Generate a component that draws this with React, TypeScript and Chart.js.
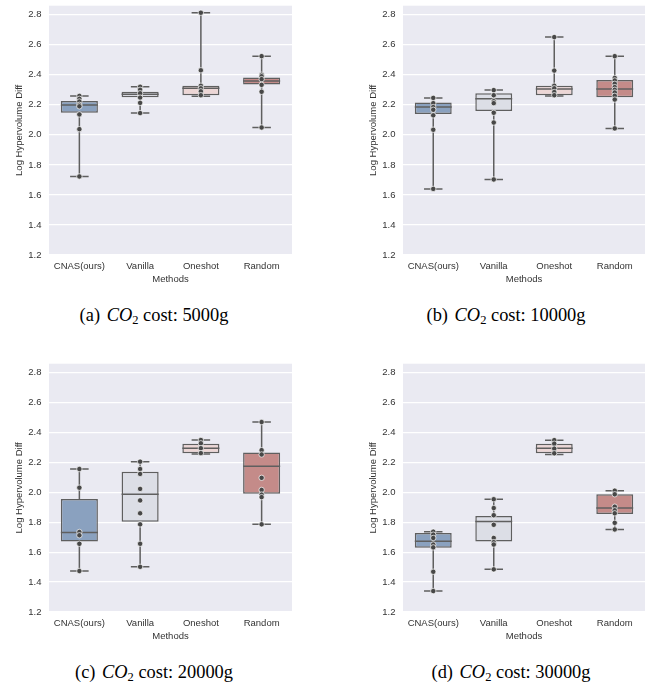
import React, { useEffect, useRef } from 'react';
import { Chart, registerables } from 'chart.js';
Chart.register(...registerables);

const METHODS = ['CNAS(ours)', 'Vanilla', 'Oneshot', 'Random'];
const BOX_COLORS = ['#8aa1bf', '#dcdee6', '#ecd6d5', '#c48b89'];
const Y_TICKS = [1.2, 1.4, 1.6, 1.8, 2.0, 2.2, 2.4, 2.6, 2.8];
const Y_MIN = 1.2;
const Y_MAX = 2.86;

// (a) CO2 cost: 5000g
const A_Q1 = [2.147, 2.25, 2.264, 2.336];
const A_MED = [2.198, 2.27, 2.31, 2.358];
const A_Q3 = [2.226, 2.287, 2.327, 2.382];
const A_LO = [1.723, 2.145, 2.257, 2.049];
const A_HI = [2.259, 2.32, 2.813, 2.524];
const A_CNAS = [2.259, 2.24, 2.222, 2.2, 2.19, 2.136, 2.038, 1.723];
const A_VANILLA = [2.32, 2.3, 2.277, 2.248, 2.213, 2.145];
const A_ONESHOT = [2.813, 2.43, 2.327, 2.31, 2.29, 2.264];
const A_RANDOM = [2.524, 2.4, 2.39, 2.371, 2.333, 2.287, 2.049];

// (b) CO2 cost: 10000g
const B_Q1 = [2.139, 2.159, 2.264, 2.25];
const B_MED = [2.185, 2.241, 2.305, 2.305];
const B_Q3 = [2.215, 2.277, 2.327, 2.366];
const B_LO = [1.64, 1.703, 2.259, 2.043];
const B_HI = [2.246, 2.298, 2.651, 2.524];
const B_CNAS = [2.246, 2.211, 2.185, 2.167, 2.13, 2.034, 1.64];
const B_VANILLA = [2.298, 2.264, 2.224, 2.211, 2.147, 2.082, 1.703];
const B_ONESHOT = [2.651, 2.428, 2.327, 2.31, 2.285, 2.264];
const B_RANDOM = [2.524, 2.379, 2.362, 2.34, 2.318, 2.3, 2.282, 2.26, 2.235, 2.043];

// (c) CO2 cost: 20000g
const C_Q1 = [1.671, 1.803, 2.262, 1.99];
const C_MED = [1.731, 1.987, 2.295, 2.174];
const C_Q3 = [1.955, 2.137, 2.325, 2.266];
const C_LO = [1.474, 1.502, 2.257, 1.786];
const C_HI = [2.156, 2.205, 2.35, 2.47];
const C_CNAS = [2.156, 2.031, 1.735, 1.713, 1.656, 1.474];
const C_VANILLA = [2.205, 2.156, 2.123, 2.023, 1.946, 1.86, 1.786, 1.656, 1.502];
const C_ONESHOT = [2.35, 2.328, 2.295, 2.262];
const C_RANDOM = [2.47, 2.282, 2.253, 2.097, 2.016, 1.985, 1.968, 1.786];

// (d) CO2 cost: 30000g
const D_Q1 = [1.629, 1.671, 2.261, 1.855];
const D_MED = [1.673, 1.805, 2.294, 1.895];
const D_Q3 = [1.728, 1.842, 2.325, 1.987];
const D_LO = [1.34, 1.485, 2.253, 1.752];
const D_HI = [1.737, 1.954, 2.349, 2.011];
const D_CNAS = [1.737, 1.717, 1.695, 1.651, 1.632, 1.469, 1.34];
const D_VANILLA = [1.954, 1.895, 1.847, 1.783, 1.695, 1.667, 1.651, 1.485];
const D_ONESHOT = [2.349, 2.325, 2.292, 2.261];
const D_RANDOM = [2.011, 1.987, 1.904, 1.88, 1.86, 1.796, 1.752];

const EDGE = '#5f5f5f';
const FONT = "'Liberation Sans', Arial, sans-serif";

type PanelProps = {
  q1: number[]; med: number[]; q3: number[]; lo: number[]; hi: number[];
  pts: number[][];
  left: number; top: number; width: number; height: number; padRight: number;
};

const bgPlugin = {
  id: 'darkgridBg',
  beforeDraw(chart: any) {
    const { ctx, chartArea } = chart;
    ctx.save();
    ctx.fillStyle = '#eaeaf2';
    ctx.fillRect(chartArea.left, chartArea.top, chartArea.right - chartArea.left, chartArea.bottom - chartArea.top);
    ctx.restore();
  },
};

function Panel(p: PanelProps) {
  const ref = useRef<HTMLCanvasElement>(null);
  useEffect(() => {
    if (!ref.current) return;
    const whiskerPlugin = {
      id: 'whiskers',
      afterDatasetDraw(chart: any, args: any) {
        if (args.index !== 1) return;
        const { ctx } = chart;
        const xs = chart.scales.x;
        const ys = chart.scales.y;
        ctx.save();
        ctx.strokeStyle = EDGE;
        ctx.lineWidth = 1.5;
        args.meta.data.forEach((bar: any, i: number) => {
          const cx = xs.getPixelForValue(i);
          const w = bar.width;
          const cap = w * 0.25;
          const yq1 = ys.getPixelForValue(p.q1[i]);
          const yq3 = ys.getPixelForValue(p.q3[i]);
          const ylo = ys.getPixelForValue(p.lo[i]);
          const yhi = ys.getPixelForValue(p.hi[i]);
          const ym = ys.getPixelForValue(p.med[i]);
          ctx.beginPath();
          ctx.moveTo(cx, yq1); ctx.lineTo(cx, ylo);
          ctx.moveTo(cx, yq3); ctx.lineTo(cx, yhi);
          ctx.moveTo(cx - cap, ylo); ctx.lineTo(cx + cap, ylo);
          ctx.moveTo(cx - cap, yhi); ctx.lineTo(cx + cap, yhi);
          ctx.moveTo(cx - w / 2, ym); ctx.lineTo(cx + w / 2, ym);
          ctx.stroke();
        });
        ctx.restore();
      },
    };
    const points: any[] = [];
    p.pts.forEach((arr, i) => arr.forEach((v) => points.push({ x: METHODS[i], y: v })));
    const chart = new Chart(ref.current, {
      type: 'bar',
      data: {
        labels: METHODS,
        datasets: [
          {
            type: 'scatter',
            data: points,
            order: 1,
            backgroundColor: '#474747',
            borderColor: '#ffffff',
            borderWidth: 0.7,
            pointRadius: 2.7,
          } as any,
          {
            type: 'bar',
            data: p.q1.map((v, i) => [v, p.q3[i]]),
            order: 2,
            backgroundColor: BOX_COLORS,
            borderColor: EDGE,
            borderWidth: 1.5,
            borderSkipped: false,
            barPercentage: 0.61,
            categoryPercentage: 1,
          } as any,
        ],
      },
      options: {
        responsive: false,
        animation: false,
        devicePixelRatio: 1,
        layout: { padding: { left: 10, top: 0, right: p.padRight, bottom: 0 } },
        plugins: { legend: { display: false }, tooltip: { enabled: false } },
        scales: {
          x: {
            type: 'category',
            grid: { display: false, drawTicks: false },
            border: { display: false },
            ticks: { color: '#333333', font: { family: FONT, size: 9.5 }, padding: 6, maxRotation: 0 },
            title: { display: true, text: 'Methods', color: '#333333', font: { family: FONT, size: 9.5 }, padding: 0 },
            afterFit: (s: any) => { s.height = 30; s.paddingLeft = 0; s.paddingRight = 0; },
          },
          y: {
            min: Y_MIN,
            max: Y_MAX,
            grid: { color: '#ffffff', lineWidth: 1.2, drawTicks: false },
            border: { display: false },
            afterBuildTicks: (s: any) => { s.ticks = Y_TICKS.map((v) => ({ value: v })); },
            ticks: {
              color: '#333333',
              font: { family: FONT, size: 9.5 },
              padding: 7.5,
              callback: (v: any) => Number(v).toFixed(1),
            },
            title: { display: true, text: 'Log Hypervolume Diff', color: '#333333', font: { family: FONT, size: 9.5 }, padding: { top: 4, bottom: 0 } },
            afterFit: (s: any) => { s.width = 39; s.paddingTop = 0; s.paddingBottom = 0; },
          },
        },
      },
      plugins: [bgPlugin, whiskerPlugin],
    } as any);
    return () => chart.destroy();
  }, []);
  return (
    <canvas
      ref={ref}
      width={p.width}
      height={p.height}
      style={{ position: 'absolute', left: p.left, top: p.top, width: p.width, height: p.height }}
    />
  );
}

function Caption({ tag, cost, cx, top }: { tag: string; cost: string; cx: number; top: number }) {
  return (
    <div
      style={{
        position: 'absolute', left: cx - 120, top, width: 240, textAlign: 'center',
        fontFamily: "'Liberation Serif', 'Times New Roman', serif", fontSize: 18.4, lineHeight: '22px', color: '#000',
        whiteSpace: 'nowrap',
      }}
    >
      ({tag}) <i style={{ marginLeft: 2 }}>CO</i><sub style={{ fontSize: 12.5, verticalAlign: '-3px', lineHeight: 0 }}>2</sub> cost: {cost}
    </div>
  );
}

export default function App() {
  return (
    <div style={{ position: 'absolute', left: 0, top: 0, width: 651, height: 685, background: '#fff' }}>
      <Panel q1={A_Q1} med={A_MED} q3={A_Q3} lo={A_LO} hi={A_HI} pts={[A_CNAS, A_VANILLA, A_ONESHOT, A_RANDOM]}
        left={0} top={1} width={300} height={284} padRight={8} />
      <Panel q1={B_Q1} med={B_MED} q3={B_Q3} lo={B_LO} hi={B_HI} pts={[B_CNAS, B_VANILLA, B_ONESHOT, B_RANDOM]}
        left={354} top={1} width={297} height={284} padRight={6} />
      <Panel q1={C_Q1} med={C_MED} q3={C_Q3} lo={C_LO} hi={C_HI} pts={[C_CNAS, C_VANILLA, C_ONESHOT, C_RANDOM]}
        left={0} top={359} width={300} height={283} padRight={8} />
      <Panel q1={D_Q1} med={D_MED} q3={D_Q3} lo={D_LO} hi={D_HI} pts={[D_CNAS, D_VANILLA, D_ONESHOT, D_RANDOM]}
        left={354} top={359} width={297} height={283} padRight={6} />
      <Caption tag="a" cost="5000g" cx={154} top={304} />
      <Caption tag="b" cost="10000g" cx={506} top={304} />
      <Caption tag="c" cost="20000g" cx={154} top={661} />
      <Caption tag="d" cost="30000g" cx={511} top={661} />
    </div>
  );
}
